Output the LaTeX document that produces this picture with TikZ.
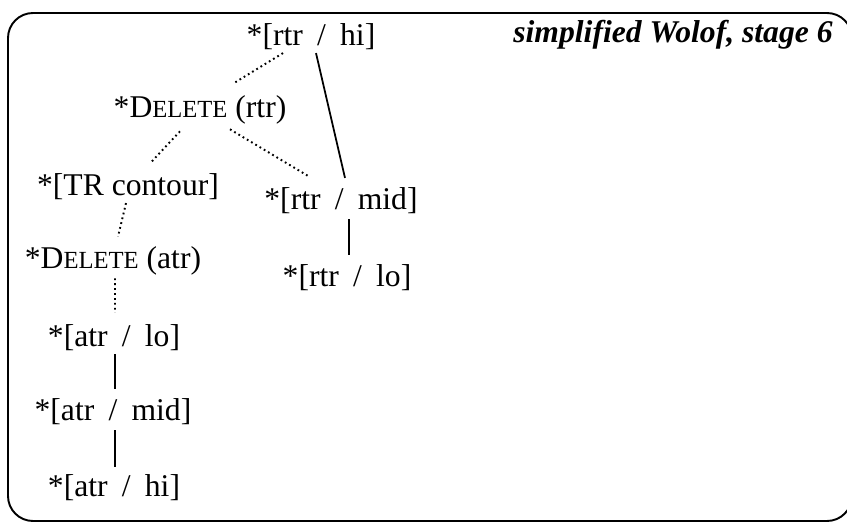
\documentclass[tikz,border=0pt]{standalone}
\usepackage{fontspec}
\setmainfont{Liberation Serif}
\usetikzlibrary{calc}
\newcommand{\fakesc}[1]{{\fontsize{14}{16}\selectfont #1}}
\newcommand{\tsl}{\hspace{0.45em}/\hspace{0.45em}}
\tikzset{
  cons/.style={font=\fontsize{18}{22}\selectfont, inner sep=1.5pt},
  headline/.style={font=\fontsize{18}{22}\selectfont\bfseries\itshape, inner sep=1.5pt},
  dom/.style={black, line width=1pt},
  weak/.style={black, line width=1.1pt, dash pattern=on 1pt off 1.8pt},
  frame/.style={black, line width=1.1pt, rounded corners=5mm},
}
\begin{document}
\begin{tikzpicture}[x=1cm,y=1cm]
  \path[use as bounding box] (0,0) rectangle (16.94,10.5);
  \draw[frame] (0.16,0.08) rectangle (17.04,10.24);

  \node[headline] (ttl) at (13.46,9.80) {simplified Wolof, stage 6};

  % ranking of the constraints
  \node[cons] (hir)  at (6.22,9.76) {*[rtr\tsl hi]};
  \node[cons] (delr) at (4.00,8.30) {*D\fakesc{ELETE} (rtr)};
  \node[cons] (tr)   at (2.56,6.76) {*[TR contour]};
  \node[cons] (midr) at (6.82,6.48) {*[rtr\tsl mid]};
  \node[cons] (dela) at (2.26,5.28) {*D\fakesc{ELETE} (atr)};
  \node[cons] (lor)  at (6.94,4.94) {*[rtr\tsl lo]};
  \node[cons] (loa)  at (2.28,3.74) {*[atr\tsl lo]};
  \node[cons] (mida) at (2.26,2.26) {*[atr\tsl mid]};
  \node[cons] (hia)  at (2.28,0.74) {*[atr\tsl hi]};

  \draw[weak] ([xshift=-5.6mm]hir.south) -- ([xshift=6.6mm,yshift=1.8mm]delr.north);
  \draw[dom]  ([xshift=1mm]hir.south) -- ([xshift=0.8mm,yshift=1.4mm]midr.north);
  \draw[weak] ([xshift=-4mm,yshift=-0.8mm]delr.south) -- ([xshift=4.4mm,yshift=1.5mm]tr.north);
  \draw[weak] ([xshift=6mm,yshift=-0.4mm]delr.south) -- ([xshift=-6.6mm,yshift=1.8mm]midr.north);
  \draw[weak] ([xshift=-0.4mm]tr.south) -- ([xshift=1mm,yshift=1.4mm]dela.north);
  \draw[dom]  ([xshift=1.6mm,yshift=-0.4mm]midr.south) -- ([xshift=0.4mm,yshift=1.4mm]lor.north);
  \draw[weak] ([xshift=0.4mm]dela.south) -- ([xshift=0.2mm,yshift=1.8mm]loa.north);
  \draw[dom]  ([xshift=0.2mm]loa.south) -- ([xshift=0.4mm,yshift=1.4mm]mida.north);
  \draw[dom]  ([xshift=0.4mm,yshift=-0.4mm]mida.south) -- ([xshift=0.2mm,yshift=1mm]hia.north);
\end{tikzpicture}
\end{document}
